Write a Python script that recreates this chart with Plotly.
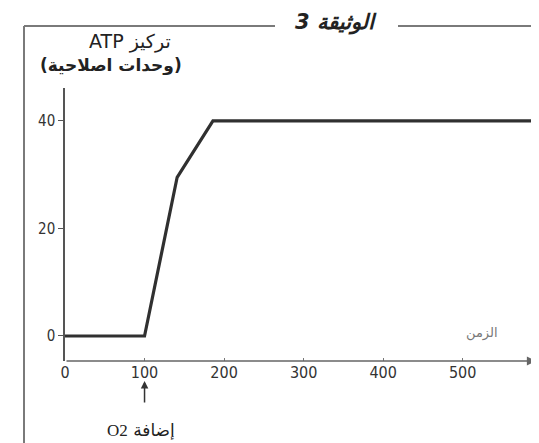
import plotly.graph_objects as go

# Data
time_s = [0, 100, 141, 186, 606]
atp = [0, 0, 29.5, 40, 40]
x_ticks = [0, 100, 200, 300, 400, 500]
y_ticks = [0, 20, 40]

W, H = 539, 443
ML, MR, MT, MB = 57, 0, 80, 90
PW, PH = W - ML - MR, H - MT - MB

def px(x):
    return (x - ML) / PW

def py(y):
    return (H - MB - y) / PH

TXT = "#222222"
FONT = "Liberation Sans Narrow, DejaVu Sans Condensed, Arial Narrow, sans-serif"
AR = "DejaVu Sans, Noto Sans, sans-serif"

fig = go.Figure()
fig.add_trace(go.Scatter(x=time_s, y=atp, mode="lines",
                         line=dict(color="#303030", width=3.2),
                         hoverinfo="skip", showlegend=False, cliponaxis=False))

fig.update_layout(
    width=W, height=H, margin=dict(l=ML, r=MR, t=MT, b=MB),
    paper_bgcolor="white", plot_bgcolor="white", showlegend=False,
    xaxis=dict(range=[0, 606], showgrid=False, zeroline=False, showline=False,
               tickvals=x_ticks, ticktext=[str(v) for v in x_ticks],
               ticks="inside", ticklen=3, tickcolor="#777",
               tickfont=dict(family=FONT, size=16, color="#333")),
    yaxis=dict(range=[-4.65, 46.1], showgrid=False, zeroline=False,
               showline=True, linecolor="#555", linewidth=1.5,
               tickvals=y_ticks, ticktext=[str(v) for v in y_ticks],
               ticks="outside", ticklen=5, tickcolor="#555",
               tickfont=dict(family=FONT, size=15, color="#333")),
)

# x-axis with arrow
fig.add_annotation(x=592, y=-4.65, ax=0, ay=-4.65, xref="x", yref="y",
                   axref="x", ayref="y", text="", showarrow=True,
                   arrowhead=2, arrowsize=1.2, arrowwidth=1.5, arrowcolor="#666")

# frame
frame = dict(color="#7a7a7a", width=2)
fig.add_shape(type="line", xref="paper", yref="paper", x0=px(16), x1=px(16),
              y0=py(18), y1=py(440), line=frame)
fig.add_shape(type="line", xref="paper", yref="paper", x0=px(16), x1=px(545),
              y0=py(440), y1=py(440), line=frame)
fig.add_shape(type="line", xref="paper", yref="paper", x0=px(16), x1=px(267),
              y0=py(18), y1=py(18), line=frame)
fig.add_shape(type="line", xref="paper", yref="paper", x0=px(390), x1=px(545),
              y0=py(18), y1=py(18), line=frame)

def label(text, x, y, size, family=AR, color=TXT):
    fig.add_annotation(text=text, x=px(x), y=py(y), xref="paper", yref="paper",
                       showarrow=False, xanchor="center", yanchor="middle",
                       font=dict(family=family, size=size, color=color))

label("<b><i>الوثيقة 3</i></b>", 328, 15, 21)
label("ATP تركيز", 122, 34, 19)
label("<b>(وحدات اصلاحية)</b>", 103, 57, 17)
label("الزمن", 474, 325, 13, color="#777")
label("<span style='font-family:Liberation Serif, serif'>O2</span> إضافة", 133, 422, 17)

# arrow for O2 addition
fig.add_annotation(x=100, y=py(373), xref="x", yref="paper",
                   ax=0, ay=23, axref="pixel", ayref="pixel",
                   text="", showarrow=True, arrowhead=2, arrowsize=1,
                   arrowwidth=1.5, arrowcolor="#333")

fig.write_html("out.html")
